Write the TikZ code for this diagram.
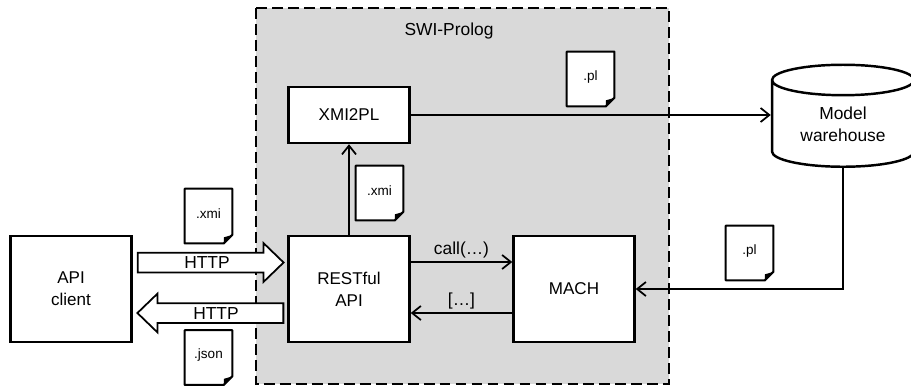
\documentclass[tikz,border=0pt]{standalone}
\usepackage{fontspec}
\setmainfont{Liberation Sans}
\usetikzlibrary{arrows.meta,shapes.geometric,shapes.arrows}
\definecolor{sandbox}{HTML}{D9D9D9}
\tikzset{
    block/.style={draw, line width=1.4pt, fill=white, align=center, font=\fontsize{9.7}{12.5}\selectfont, minimum width=2.42cm},
    flow/.style={line width=1pt, -{Straight Barb[length=5pt,width=8pt,line width=1pt]}},
    docnode/.style={minimum width=0.94cm, minimum height=1.08cm, inner sep=0pt, font=\fontsize{7.7}{9}\selectfont},
    docline/.style={line width=1.2pt, fill=white, line join=round},
    bigarrow/.style={draw, line width=1pt, fill=white, single arrow, single arrow tip angle=88, single arrow head extend=0.19cm, minimum height=2.92cm, inner sep=0.18cm, text width=0pt, text height=0pt, text depth=0pt},
    caption/.style={font=\fontsize{9.9}{12.5}\selectfont, inner sep=0pt}
}
\newcommand{\docfile}[3]{
    \node[docnode] (#1) at (#2) {};
    \draw[docline] (#1.north west) -- (#1.north east) -- ([yshift=0.17cm]#1.south east) -- ([xshift=-0.17cm]#1.south east) -- (#1.south west) -- cycle;
    \fill[line join=round] ([yshift=0.17cm]#1.south east) -- ([xshift=-0.17cm]#1.south east) -- ([xshift=-0.17cm,yshift=0.12cm]#1.south east) -- cycle;
    \node[docnode] at ([yshift=0.05cm]#1.center) {#3};
}
\begin{document}
\begin{tikzpicture}[x=0.02cm, y=-0.02cm]
    \useasboundingbox (0,0) rectangle (911,387);
    \draw[fill=sandbox, line width=1.4pt, dash pattern=on 6.2pt off 2.9pt] (256,8) rectangle (669,384);
    \node[caption] (prolog) at (449,31) {SWI-Prolog};

    \node[block, minimum height=2.12cm] (client) at (71,289) {API\\client};
    \node[block, minimum height=2.12cm] (restful) at (349,289) {RESTful\\API};
    \node[block, minimum height=1.12cm] (xmipl) at (349,115) {XMI2PL};
    \node[block, minimum height=2.12cm] (mach) at (574,289) {MACH};
    \node[draw, line width=1.4pt, fill=white, cylinder, shape border rotate=90, aspect=2.6, minimum width=2.84cm, minimum height=2.04cm] (warehouse) at (843,127) {};
    \node[caption, align=center] (warehouselabel) at (843,124) {Model\\warehouse};

    \draw[flow] (restful.north) -- (xmipl.south);
    \draw[flow] (xmipl.east) -- (warehouse.west |- xmipl.east);
    \draw[flow] (warehouse.south) |- (mach.east);
    \draw[flow] (restful.east |- 0,262) -- node[caption, above=2pt] (calllabel) {call(\dots)} (mach.west |- 0,262);
    \draw[flow] (mach.west |- 0,313) -- node[caption, above=2pt] (resultlabel) {[\dots]} (restful.east |- 0,313);

    \node[bigarrow] (httpin) at (205.5,262.5) {};
    \node[bigarrow, shape border rotate=180] (httpout) at (215.5,313) {};
    \node[caption] (httpinlabel) at (207,263) {HTTP};
    \node[caption] (httpoutlabel) at (216,314) {HTTP};

    \docfile{xmiclient}{208.5,216}{.xmi}
    \docfile{jsonclient}{208.5,357.5}{.json}
    \docfile{xmiserver}{379.5,193}{.xmi}
    \docfile{plserver}{590.5,79}{.pl}
    \docfile{plstore}{749.5,253}{.pl}
\end{tikzpicture}
\end{document}
